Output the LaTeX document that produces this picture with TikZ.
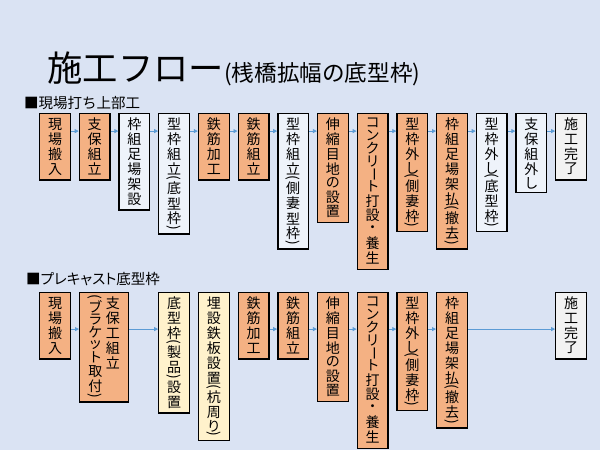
\documentclass[tikz,border=0pt]{standalone}
\usepackage{fontspec}
\usepackage{graphicx}
\setmainfont{Noto Sans CJK JP}
\newfontfamily\jpp[RawFeature=+palt]{Noto Sans CJK JP}
\usetikzlibrary{arrows.meta}
\definecolor{bg}{HTML}{DAE3F3}
\definecolor{org}{HTML}{F4B183}
\definecolor{wht}{HTML}{EEF3FA}
\definecolor{crm}{HTML}{FFF2CC}
\definecolor{gry}{HTML}{F2F2F2}
\definecolor{arc}{HTML}{5B9BD5}

\ExplSyntaxOn
\cs_new_protected:Npn \vt_slot:nn #1 #2
  { \hbox to 15pt { \hss \vbox to #1 { \vss \hbox{#2} \vss } \hss } }
\cs_new_protected:Npn \vt_char:n #1
  {
    \str_case:nnF {#1}
      {
        {(} { \vt_slot:nn {4.5pt} { \rotatebox[origin=c]{-90}{(} } }
        {)} { \vt_slot:nn {4.5pt} { \rotatebox[origin=c]{-90}{)} } }
        {ー} { \vt_slot:nn {12.5pt} { \rotatebox[origin=c]{-90}{ー} } }
      }
      {
        \int_compare:nTF { "3040 <= `#1 <= "30FF }
          { \vt_slot:nn {12.8pt} {#1} }
          { \vt_slot:nn {15pt} {#1} }
      }
  }
\NewDocumentCommand \vt { m }
  { \vtop { \offinterlineskip \hbox{} \tl_map_inline:nn {#1} { \vt_char:n {##1} } } }
\ExplSyntaxOff

\tikzset{
  bx/.style={draw=black, line width=1.3pt, inner xsep=0pt, inner ysep=3.3pt,
    minimum width=30.7pt, anchor=north, font=\fontsize{14}{15}\selectfont},
  ob/.style={bx, fill=org},
  wb/.style={bx, fill=wht},
  cb/.style={bx, fill=crm},
  gb/.style={bx, fill=gry},
  ar/.style={draw=arc, line width=0.8pt, -{Triangle[length=4pt,width=4pt]}},
  lbl/.style={anchor=base west, inner sep=0pt}
}

\begin{document}
\begin{tikzpicture}[x=1pt, y=-1pt]
\fill[bg] (0,0) rectangle (600,450);
\useasboundingbox (0,0) rectangle (600,450);

\node[lbl] (title) at (47.5,81) {{\fontsize{35.3}{40}\selectfont 施工フロー}{\fontsize{22.6}{26}\selectfont (桟橋拡幅の底型枠)}};
\node[lbl, font=\fontsize{14.5}{16}\selectfont] (s1) at (24,108) {■現場打ち上部工};
\node[lbl, font=\jpp\fontsize{14.5}{16}\selectfont] (s2) at (26,284) {■プレキャスト底型枠};

% top row
\node[ob] (a1) at (55,112.7) {\vt{現場搬入}};
\node[ob] (a2) at (94.7,112.7) {\vt{支保組立}};
\node[wb] (a3) at (134.4,112.7) {\vt{枠組足場架設}};
\node[wb] (a4) at (174.1,112.7) {\vt{型枠組立(底型枠)}};
\node[ob] (a5) at (213.8,112.7) {\vt{鉄筋加工}};
\node[ob] (a6) at (253.5,112.7) {\vt{鉄筋組立}};
\node[wb] (a7) at (293.2,112.7) {\vt{型枠組立(側妻型枠)}};
\node[ob] (a8) at (332.9,112.7) {\vt{伸縮目地の設置}};
\node[ob] (a9) at (372.6,112.7) {\vt{コンクリート打設・養生}};
\node[ob] (a10) at (412.3,112.7) {\vt{型枠外し(側妻枠)}};
\node[ob] (a11) at (452,112.7) {\vt{枠組足場架払(撤去)}};
\node[wb] (a12) at (491.7,112.7) {\vt{型枠外し(底型枠)}};
\node[wb] (a13) at (531.4,112.7) {\vt{支保組外し}};
\node[gb] (a14) at (571.1,112.7) {\vt{施工完了}};

\foreach \p/\q in {a1/a2,a2/a3,a3/a4,a4/a5,a5/a6,a6/a7,a7/a8,a8/a9,a9/a10,a10/a11,a11/a12,a12/a13,a13/a14}
  \draw[ar] ([yshift=-18.4pt]\p.north east) -- ([yshift=-18.4pt]\q.north west);

% bottom row
\node[ob] (b1) at (55,291.7) {\vt{現場搬入}};
\node[ob, minimum width=48.7pt] (b2) at (104,291.7) {\vt{(ブラケット取付)}\hspace{2.5pt}\vt{支保工組立}};
\node[cb] (b3) at (174.1,291.7) {\vt{底型枠(製品)設置}};
\node[cb] (b4) at (213.8,291.7) {\vt{埋設鉄板設置(杭周り)}};
\node[ob] (b5) at (253.5,291.7) {\vt{鉄筋加工}};
\node[ob] (b6) at (293.2,291.7) {\vt{鉄筋組立}};
\node[ob] (b7) at (332.9,291.7) {\vt{伸縮目地の設置}};
\node[ob] (b8) at (372.6,291.7) {\vt{コンクリート打設・養生}};
\node[ob] (b9) at (412.3,291.7) {\vt{型枠外し(側妻枠)}};
\node[ob] (b10) at (452,291.7) {\vt{枠組足場架払(撤去)}};
\node[gb] (b11) at (571.1,291.7) {\vt{施工完了}};

\foreach \p/\q in {b1/b2,b2/b3,b5/b6,b6/b7,b7/b8,b8/b9,b9/b10,b10/b11}
  \draw[ar] ([yshift=-37.4pt]\p.north east) -- ([yshift=-37.4pt]\q.north west);
\end{tikzpicture}
\end{document}
